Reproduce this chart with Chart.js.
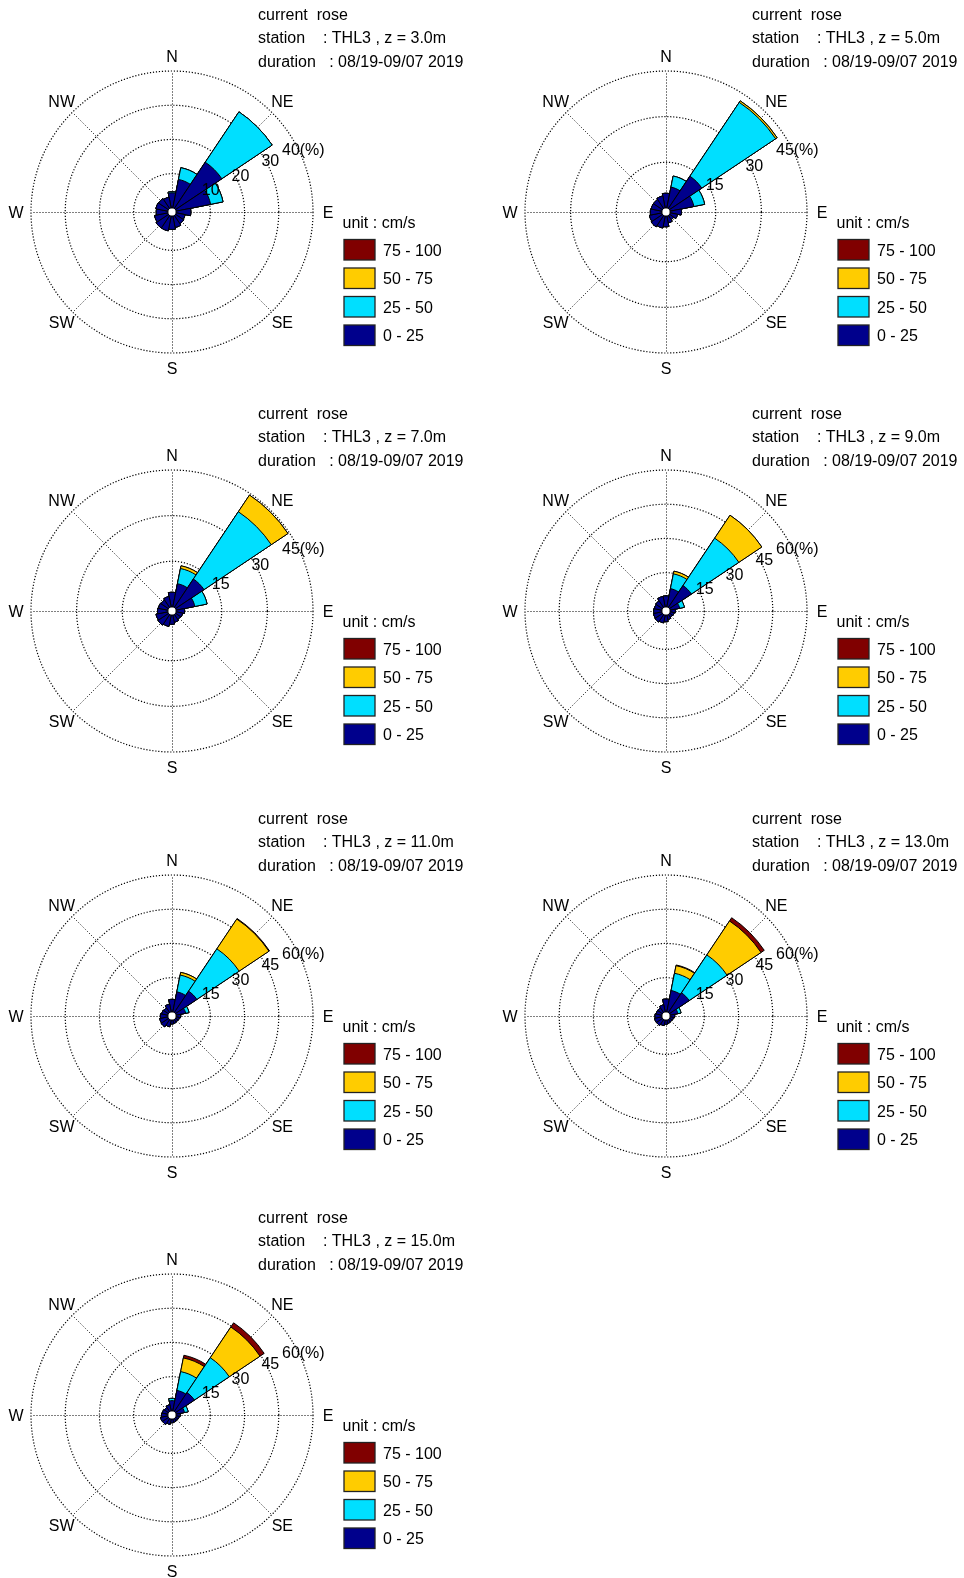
<!DOCTYPE html>
<html>
<head>
<meta charset="utf-8">
<script src="https://cdn.jsdelivr.net/npm/chart.js@4.4.1/dist/chart.umd.min.js"></script>
<style>
html, body { margin: 0; padding: 0; background: #fff; overflow: hidden; width: 964px; height: 1578px; }
canvas { position: absolute; }
</style>
</head>
<body>
<script>
// ---------------- data ----------------
const directions = ['N','NNE','NE','ENE','E','ESE','SE','SSE','S','SSW','SW','WSW','W','WNW','NW','NNW'];
const speedClasses = ['0 - 25', '25 - 50', '50 - 75', '75 - 100'];
const depths = ['3.0', '5.0', '7.0', '9.0', '11.0', '13.0', '15.0'];
const stationName = 'THL3';
const durationText = '08/19-09/07 2019';
const unitText = 'cm/s';

const ringTicks_z3 = [10, 20, 30, 40];
const ringTicks_z5 = [15, 30, 45];
const ringTicks_z7 = [15, 30, 45];
const ringTicks_z9 = [15, 30, 45, 60];
const ringTicks_z11 = [15, 30, 45, 60];
const ringTicks_z13 = [15, 30, 45, 60];
const ringTicks_z15 = [15, 30, 45, 60];

// percentages per direction (N, NNE, ... NNW) for each speed class
const z3_0to25   = [4.4, 8.5, 16.3, 10.3, 4.3, 2.7, 2.9, 3.4, 3.9, 4.4, 4.4, 4.0, 3.4, 3.6, 3.5, 3.2];
const z3_25to50  = [0.3, 3.5, 17.7, 3.7, 0, 0, 0, 0, 0, 0, 0, 0, 0, 0, 0, 0];
const z3_50to75  = [0, 0, 0, 0, 0, 0, 0, 0, 0, 0, 0, 0, 0, 0, 0, 0];
const z3_75to100 = [0, 0, 0, 0, 0, 0, 0, 0, 0, 0, 0, 0, 0, 0, 0, 0];

const z5_0to25   = [4.8, 7.0, 12.8, 8.0, 3.7, 2.5, 1.7, 2.3, 3.5, 4.0, 4.5, 4.2, 3.8, 3.6, 3.6, 4.0];
const z5_25to50  = [0, 3.7, 29.2, 3.6, 0, 0, 0, 0, 0, 0, 0, 0, 0, 0, 0, 0];
const z5_50to75  = [0, 0, 0.6, 0, 0, 0, 0, 0, 0, 0, 0, 0, 0, 0, 0, 0];
const z5_75to100 = [0, 0, 0, 0, 0, 0, 0, 0, 0, 0, 0, 0, 0, 0, 0, 0];

const z7_0to25   = [4.8, 7.8, 11.3, 6.3, 2.8, 2.2, 2.0, 2.4, 3.0, 3.8, 4.2, 4.0, 3.4, 3.2, 3.0, 3.5];
const z7_25to50  = [0, 5.1, 26.6, 4.1, 0, 0, 0, 0, 0, 0, 0, 0, 0, 0, 0, 0];
const z7_50to75  = [0, 0.9, 6.6, 0, 0, 0, 0, 0, 0, 0, 0, 0, 0, 0, 0, 0];
const z7_75to100 = [0, 0, 0, 0, 0, 0, 0, 0, 0, 0, 0, 0, 0, 0, 0, 0];

const z9_0to25   = [4.8, 8.2, 11.6, 4.3, 2.3, 1.8, 1.5, 2.0, 2.9, 3.5, 4.0, 3.8, 3.6, 3.4, 3.6, 4.7];
const z9_25to50  = [0, 6.6, 25.0, 2.1, 0, 0, 0, 0, 0, 0, 0, 0, 0, 0, 0, 0];
const z9_50to75  = [0, 1.2, 12.1, 0, 0, 0, 0, 0, 0, 0, 0, 0, 0, 0, 0, 0];
const z9_75to100 = [0, 0, 0, 0, 0, 0, 0, 0, 0, 0, 0, 0, 0, 0, 0, 0];

const z11_0to25   = [5.5, 9.0, 11.3, 4.3, 2.0, 1.5, 1.3, 1.5, 1.7, 3.0, 3.9, 3.7, 3.3, 2.8, 2.5, 3.5];
const z11_25to50  = [0, 7.5, 22.3, 1.5, 0, 0, 0, 0, 0, 0, 0, 0, 0, 0, 0, 0];
const z11_50to75  = [0, 1.2, 15.7, 0, 0, 0, 0, 0, 0, 0, 0, 0, 0, 0, 0, 0];
const z11_75to100 = [0, 0, 0.3, 0, 0, 0, 0, 0, 0, 0, 0, 0, 0, 0, 0, 0];

const z13_0to25   = [5.6, 9.6, 10.4, 3.5, 2.0, 1.5, 1.3, 1.5, 1.8, 2.5, 3.2, 3.3, 3.0, 2.6, 2.5, 3.2];
const z13_25to50  = [0, 7.7, 20.0, 1.4, 0, 0, 0, 0, 0, 0, 0, 0, 0, 0, 0, 0];
const z13_50to75  = [0, 3.4, 17.9, 0, 0, 0, 0, 0, 0, 0, 0, 0, 0, 0, 0, 0];
const z13_75to100 = [0, 0.3, 1.7, 0, 0, 0, 0, 0, 0, 0, 0, 0, 0, 0, 0, 0];

const z15_0to25   = [4.5, 9.2, 10.0, 3.8, 1.8, 1.4, 1.2, 1.4, 1.6, 2.4, 3.2, 3.3, 2.8, 2.5, 2.2, 2.8];
const z15_25to50  = [1.0, 8.4, 18.4, 1.6, 0, 0, 0, 0, 0, 0, 0, 0, 0, 0, 0, 0];
const z15_50to75  = [0, 6.1, 16.2, 0, 0, 0, 0, 0, 0, 0, 0, 0, 0, 0, 0, 0];
const z15_75to100 = [0, 1.2, 2.2, 0, 0, 0, 0, 0, 0, 0, 0, 0, 0, 0, 0, 0];

// ---------------- styles / layout ----------------
const classColors = ['#00008c', '#00dfff', '#ffcc00', '#800000'];
const FONT = '16px "Liberation Sans", Arial, Helvetica, sans-serif';
const R = 141;
const colLeft = [0, 482];
const colCenterX = [172, 184];
const rowTop = [0, 399, 804, 1203];
const rowHeight = [399, 405, 399, 375];
const CY = 212;

const panels = [
  { z: depths[0], cls: [z3_0to25, z3_25to50, z3_50to75, z3_75to100], ticks: ringTicks_z3, col: 0, row: 0 },
  { z: depths[1], cls: [z5_0to25, z5_25to50, z5_50to75, z5_75to100], ticks: ringTicks_z5, col: 1, row: 0 },
  { z: depths[2], cls: [z7_0to25, z7_25to50, z7_50to75, z7_75to100], ticks: ringTicks_z7, col: 0, row: 1 },
  { z: depths[3], cls: [z9_0to25, z9_25to50, z9_50to75, z9_75to100], ticks: ringTicks_z9, col: 1, row: 1 },
  { z: depths[4], cls: [z11_0to25, z11_25to50, z11_50to75, z11_75to100], ticks: ringTicks_z11, col: 0, row: 2 },
  { z: depths[5], cls: [z13_0to25, z13_25to50, z13_50to75, z13_75to100], ticks: ringTicks_z13, col: 1, row: 2 },
  { z: depths[6], cls: [z15_0to25, z15_25to50, z15_50to75, z15_75to100], ticks: ringTicks_z15, col: 0, row: 3 }
];

function cumulative(classes) {
  const out = [];
  let run = new Array(directions.length).fill(0);
  classes.forEach(c => {
    run = run.map((v, i) => +(v + c[i]).toFixed(3));
    out.push(run.slice());
  });
  return out;
}

const compass = [['N', 0], ['NE', 45], ['E', 90], ['SE', 135], ['S', 180], ['SW', 225], ['W', 270], ['NW', 315]];

function makeRosePlugin(p) {
  const tks = p.ticks;
  return {
    id: 'rosePlugin',
    beforeDatasetsDraw(chart) {
      const s = chart.scales.r;
      const ctx = chart.ctx;
      const cx = s.xCenter, cy = s.yCenter;
      const outer = s.getDistanceFromCenterForValue(s.max);
      ctx.save();
      ctx.strokeStyle = '#000';
      ctx.lineWidth = 1.2;
      ctx.setLineDash([1.2, 1.8]);
      tks.forEach(t => {
        const r = s.getDistanceFromCenterForValue(t);
        ctx.beginPath();
        ctx.arc(cx, cy, r, 0, Math.PI * 2);
        ctx.stroke();
      });
      ctx.lineWidth = 1;
      ctx.setLineDash([1, 2]);
      for (let k = 0; k < 8; k++) {
        const a = k * Math.PI / 4;
        ctx.beginPath();
        ctx.moveTo(cx + 0.5, cy + 0.5);
        ctx.lineTo(cx + 0.5 + outer * Math.sin(a), cy + 0.5 - outer * Math.cos(a));
        ctx.stroke();
      }
      ctx.restore();
    },
    afterDatasetsDraw(chart) {
      const s = chart.scales.r;
      const ctx = chart.ctx;
      const hr = s.getDistanceFromCenterForValue(0);
      ctx.save();
      ctx.beginPath();
      ctx.arc(s.xCenter, s.yCenter, hr, 0, Math.PI * 2);
      ctx.fillStyle = '#fff';
      ctx.fill();
      ctx.strokeStyle = '#000';
      ctx.lineWidth = 1;
      ctx.stroke();
      ctx.restore();
    },
    afterDraw(chart) {
      const s = chart.scales.r;
      const ctx = chart.ctx;
      const cx = s.xCenter, cy = s.yCenter;
      const outer = s.getDistanceFromCenterForValue(s.max);
      ctx.save();
      ctx.font = FONT;
      ctx.fillStyle = '#000';
      ctx.textBaseline = 'alphabetic';
      ctx.textAlign = 'center';
      compass.forEach(([lab, deg]) => {
        const a = deg * Math.PI / 180;
        const d = outer + 15;
        ctx.fillText(lab, cx + d * Math.sin(a), cy - d * Math.cos(a) + 5.8);
      });
      ctx.textAlign = 'left';
      tks.forEach((t, i) => {
        const r = s.getDistanceFromCenterForValue(t);
        if (i === tks.length - 1) {
          ctx.fillText(t + '(%)', cx + 0.78 * r, cy - 0.447 * r + 5.8);
        } else {
          ctx.fillText(String(t), cx + 0.87 * r - 3.5, cy - 0.42 * r - 6.5 + 5.8);
        }
      });
      const tx = cx + 86;
      ctx.fillText('current  rose', tx, cy - 192.5);
      ctx.fillText('station    : ' + stationName + ' , z = ' + p.z + 'm', tx, cy - 169);
      ctx.fillText('duration   : ' + durationText, tx, cy - 145.5);
      const lx = cx + 172;
      ctx.fillText('unit : ' + unitText, lx - 1.5, cy + 15.5);
      for (let i = 0; i < 4; i++) {
        const k = 3 - i;
        const top = cy + 27.5 + i * 28.5;
        ctx.fillStyle = classColors[k];
        ctx.fillRect(lx, top, 31, 20.5);
        ctx.strokeStyle = '#222';
        ctx.lineWidth = 1.3;
        ctx.strokeRect(lx, top, 31, 20.5);
        ctx.fillStyle = '#000';
        ctx.fillText(speedClasses[k], lx + 39, top + 10.25 + 5.8);
      }
      ctx.restore();
    }
  };
}

panels.forEach(p => {
  const cv = document.createElement('canvas');
  const H = rowHeight[p.row];
  cv.width = 482; cv.height = H;
  cv.style.left = colLeft[p.col] + 'px';
  cv.style.top = rowTop[p.row] + 'px';
  cv.style.width = '482px'; cv.style.height = H + 'px';
  document.body.appendChild(cv);
  const maxV = p.ticks[p.ticks.length - 1];
  const step = p.ticks[0];
  const minV = -maxV * 0.03;
  const cum = cumulative(p.cls);
  const lp = colCenterX[p.col] - R;
  const tp = CY - R;
  new Chart(cv.getContext('2d'), {
    type: 'polarArea',
    data: {
      labels: directions,
      datasets: cum.map((d, k) => ({
        label: speedClasses[k],
        data: d,
        backgroundColor: classColors[k],
        borderColor: '#000',
        borderWidth: 1,
        borderJoinStyle: 'miter'
      }))
    },
    options: {
      responsive: false,
      animation: false,
      devicePixelRatio: 1,
      layout: { padding: { left: lp, right: 482 - lp - 2 * R, top: tp, bottom: H - tp - 2 * R } },
      plugins: { legend: { display: false }, tooltip: { enabled: false }, title: { display: false } },
      scales: {
        r: {
          type: 'radialLinear',
          min: minV,
          max: maxV,
          startAngle: -11.25,
          ticks: { display: false, stepSize: step },
          grid: { display: false },
          angleLines: { display: false },
          pointLabels: { display: false }
        }
      }
    },
    plugins: [makeRosePlugin(p)]
  });
});
</script>
</body>
</html>
